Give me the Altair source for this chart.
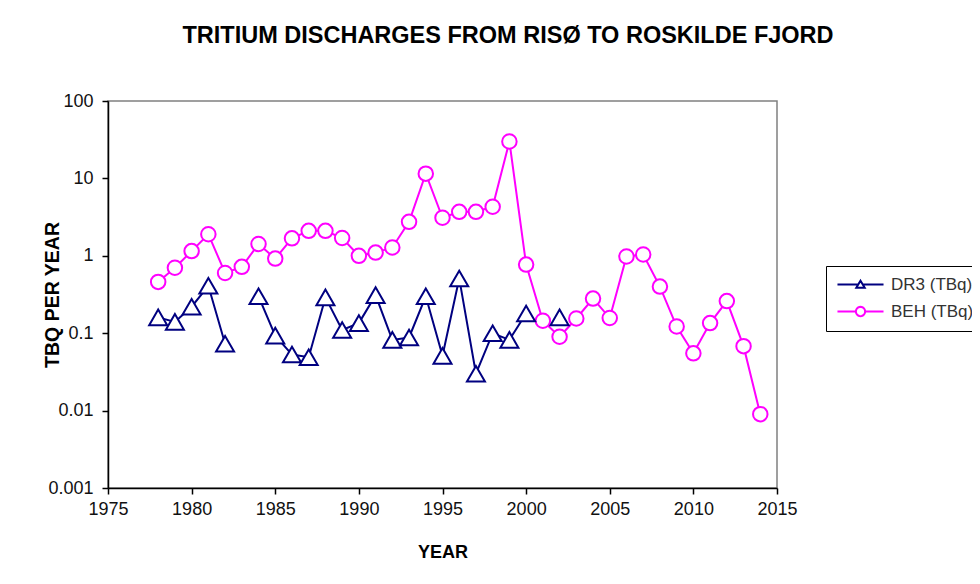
import math
import altair as alt
import pandas as pd

# ---------------- data ----------------
title_text = "TRITIUM DISCHARGES FROM RISØ TO ROSKILDE FJORD"
x_title = "YEAR"
y_title = "TBQ PER YEAR"
series_names = ["DR3 (TBq)", "BEH (TBq)"]
series_colors = ["#000080", "#FF00FF"]

dr3_years = [1978, 1979, 1980, 1981, 1982,
             1984, 1985, 1986, 1987, 1988, 1989, 1990, 1991, 1992, 1993,
             1994, 1995, 1996, 1997, 1998, 1999, 2000,
             2002]
dr3_values = [0.16, 0.14, 0.22, 0.41, 0.073,
              0.30, 0.093, 0.053, 0.049, 0.29, 0.11, 0.135, 0.31, 0.082, 0.088,
              0.30, 0.051, 0.51, 0.030, 0.10, 0.082, 0.18,
              0.16]

beh_years = [1978, 1979, 1980, 1981, 1982, 1983, 1984, 1985, 1986, 1987,
             1988, 1989, 1990, 1991, 1992, 1993, 1994, 1995, 1996, 1997,
             1998, 1999, 2000, 2001, 2002, 2003, 2004, 2005, 2006, 2007,
             2008, 2009, 2010, 2011, 2012, 2013, 2014]
beh_values = [0.46, 0.70, 1.15, 1.9, 0.60, 0.72, 1.42, 0.92, 1.68, 2.1,
              2.1, 1.70, 1.0, 1.1, 1.28, 2.75, 11.5, 3.1, 3.7, 3.7,
              4.3, 30.0, 0.77, 0.145, 0.09, 0.155, 0.28, 0.157, 0.98, 1.04,
              0.40, 0.122, 0.055, 0.135, 0.26, 0.068, 0.009]

x_ticks = [1975, 1980, 1985, 1990, 1995, 2000, 2005, 2010, 2015]
y_ticks = [0.001, 0.01, 0.1, 1, 10, 100]

# ---------------- table ----------------
rows = []
for name, yrs, vals in [(series_names[0], dr3_years, dr3_values),
                        (series_names[1], beh_years, beh_values)]:
    seg = 0
    prev = None
    for yr, v in zip(yrs, vals):
        if prev is not None and yr - prev > 1:
            seg += 1
        rows.append({"series": name, "year": yr, "value": v, "seg": f"{name}-{seg}"})
        prev = yr
df = pd.DataFrame(rows)

FONT = "Liberation Sans"

x_enc = alt.X(
    "year:Q",
    scale=alt.Scale(domain=[1975, 2015], nice=False, zero=False),
    axis=alt.Axis(values=x_ticks, format="d", title=x_title, labelFlush=False,
                  titleX=334.5, titleY=69, titleBaseline="alphabetic",
                  titleAlign="center", labelPadding=6),
)
y_enc = alt.Y(
    "value:Q",
    scale=alt.Scale(type="log", domain=[0.001, 100], nice=False),
    axis=alt.Axis(values=y_ticks, format="~g", title=y_title, labelFlush=False,
                  titleAngle=270, titleX=-50, titleY=193.5, titleFontSize=19.5,
                  titleBaseline="alphabetic", titleAlign="center",
                  labelPadding=9),
)

base = alt.Chart(df)

def line_layer(idx):
    return base.transform_filter(alt.datum.series == series_names[idx]).mark_line(
        strokeWidth=2, clip=False, color=series_colors[idx]
    ).encode(x=x_enc, y=y_enc, detail="seg:N")

def point_layer(idx, shape, size):
    return base.transform_filter(alt.datum.series == series_names[idx]).mark_point(
        shape=shape, size=size, filled=False, fill="white", fillOpacity=1,
        stroke=series_colors[idx], strokeWidth=2, opacity=1
    ).encode(x=x_enc, y=y_enc)

# legend glyphs: a line (46px) with a small marker in the middle.
# symbol size 196 -> path unit = 7px
tri_path = "M-3.29,0L-0.4,0M0.4,0L3.29,0M0,-0.55L0.6,0.45L-0.6,0.45Z"
circ_pts = "".join(
    f"{'M' if i == 0 else 'L'}{0.66 * math.cos(2 * math.pi * i / 24):.3f},{0.66 * math.sin(2 * math.pi * i / 24):.3f}"
    for i in range(24)
)
circ_path = "M-3.29,0L-0.66,0M0.66,0L3.29,0" + circ_pts + "Z"

legend_def = alt.Legend(
    title=None, orient="none", legendX=718, legendY=165,
    padding=10, strokeColor="black", fillColor="white",
    labelFont=FONT, labelFontSize=17, labelColor="#333333",
    symbolSize=196, symbolOffset=16, labelOffset=22,
    symbolStrokeWidth=2, symbolFillColor="white",
    symbolOpacity=1, rowPadding=9,
)

legend_layer = base.mark_point(filled=False, fill="white", opacity=0, strokeWidth=2).encode(
    x=x_enc, y=y_enc,
    color=alt.Color("series:N",
                    scale=alt.Scale(domain=series_names, range=series_colors),
                    legend=legend_def),
    shape=alt.Shape("series:N",
                    scale=alt.Scale(domain=series_names, range=[tri_path, circ_path]),
                    legend=legend_def),
)

title_layer = alt.Chart(pd.DataFrame({"t": [title_text]})).mark_text(
    font=FONT, fontSize=23.5, fontWeight="bold", color="black",
    align="center", baseline="alphabetic"
).encode(text="t:N", x=alt.value(400), y=alt.value(-58))

chart = alt.layer(
    legend_layer,
    line_layer(1),
    point_layer(1, "circle", 210),
    line_layer(0),
    point_layer(0, "triangle-up", 324),
    title_layer,
).properties(
    width=669,
    height=387,
    autosize=alt.AutoSizeParams(type="none"),
    padding={"left": 100, "top": 93, "right": 195, "bottom": 88},
).configure_view(
    stroke="#808080", strokeWidth=1.5
).configure_axis(
    grid=False,
    labelFont=FONT, labelFontSize=18, labelColor="#111111",
    titleFont=FONT, titleFontSize=18, titleFontWeight="bold", titleColor="black",
    domainColor="black", domainWidth=1.5,
    tickColor="black", tickWidth=1.5, tickSize=6,
)

chart.save("out.html", embed_options={"renderer": "svg", "actions": False})
